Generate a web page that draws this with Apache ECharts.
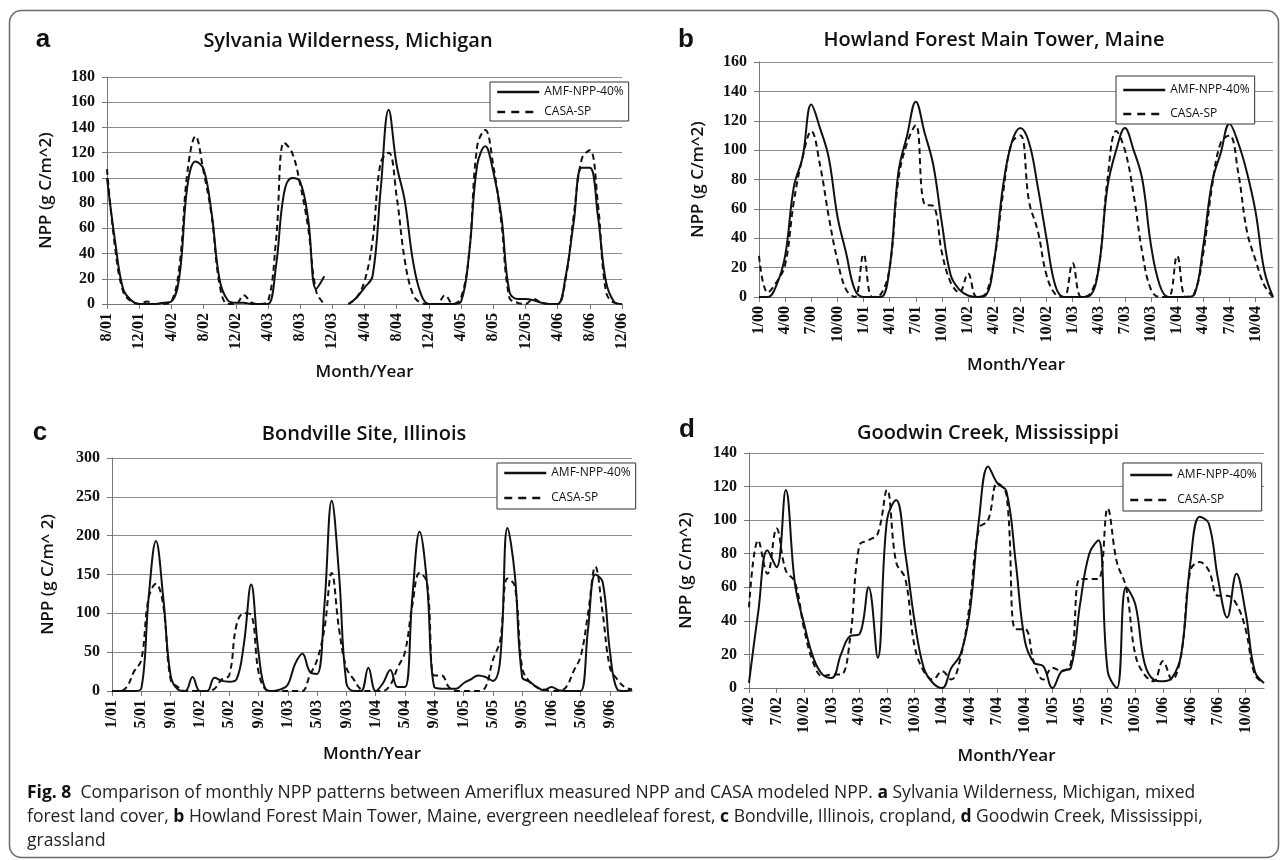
<!DOCTYPE html>
<html><head><meta charset="utf-8">
<script src="https://cdn.jsdelivr.net/npm/echarts/dist/echarts.min.js"></script>
<style>html,body{margin:0;padding:0;background:#fff}#c{width:1287px;height:860px}</style>
</head><body><div id="c"></div>
<script>
function months(m, y, n){ var out=[]; for(var i=0;i<n;i++){ out.push(m+'/'+String(y).padStart(2,'0')); m++; if(m>12){m=1;y++;} } return out; }

// Category (month/year) axes
var catA = months(8,1,65);   // 8/01 .. 12/06
var catB = months(1,0,60);   // 1/00 .. 12/04
var catC = months(1,1,72);   // 1/01 .. 12/06
var catD = months(4,2,57);   // 4/02 .. 12/06

var seriesNames = ['AMF-NPP-40%','CASA-SP'];

// a: Sylvania Wilderness, Michigan
var amfA = [100,50,12,3,0,0,0,1,2,22,94,113,107,72,19,3,1,1,0,0,0,30,88,100,97,67,12,22,null,null,0,5,13,22,90,154,110,82,35,8,0,0,0,0,2,40,110,125,105,70,10,4,4,3,1,0,0,22,65,108,108,70,18,2,0];
var casaA = [107,45,10,2,0,2,0,0,2,30,105,133,105,70,15,0,0,7,1,0,2,50,128,120,95,60,10,0,null,null,0,5,18,50,112,120,85,35,8,1,0,0,7,0,5,40,125,138,110,65,5,1,0,4,1,0,0,20,70,115,122,80,10,1,0];

// b: Howland Forest Main Tower, Maine
var amfB = [0,0,8,28,75,95,131,115,95,55,30,5,0,0,0,20,85,110,133,112,90,50,15,5,1,0,1,25,75,105,115,105,75,40,8,0,0,0,1,20,75,100,115,100,80,35,8,0,0,0,2,35,78,98,118,105,85,58,18,0];
var casaB = [28,3,10,22,65,95,113,90,55,25,5,0,29,0,2,20,80,105,117,63,62,30,10,3,16,0,2,25,70,105,110,65,45,15,2,0,23,0,2,20,80,113,100,70,30,5,0,0,28,0,3,30,75,105,110,85,45,25,8,0];

// c: Bondville Site, Illinois
var amfC = [0,0,0,0,3,120,193,120,20,2,0,18,0,0,17,13,12,15,60,137,50,2,0,2,8,35,48,25,22,110,245,150,10,0,0,30,0,10,27,5,5,120,205,140,5,3,3,3,10,15,20,18,13,40,210,150,18,12,5,1,5,1,0,0,0,80,150,140,50,2,0,2];
var casaC = [0,0,5,25,40,120,138,110,15,5,0,0,0,0,3,15,20,85,100,98,25,2,0,0,0,0,0,20,40,80,152,80,30,15,2,0,0,0,8,30,50,110,152,140,20,20,5,0,0,0,0,5,40,65,145,135,30,12,5,2,0,0,5,25,45,100,160,100,30,15,5,2];

// d: Goodwin Creek, Mississippi
var amfD = [3,45,82,72,118,62,38,18,8,6,20,31,32,60,18,100,112,80,40,12,3,0,12,20,45,100,132,122,117,75,28,15,13,0,10,12,50,80,88,10,0,60,50,15,5,4,6,20,75,102,98,65,42,68,45,10,3];
var casaD = [48,88,68,95,70,63,35,15,7,8,8,30,85,88,92,118,75,65,25,10,5,10,5,18,50,95,100,122,115,35,35,15,5,12,10,15,65,65,65,107,75,60,20,8,4,16,5,20,70,75,70,55,55,50,35,8,3];

var panels = [
  {cat:catA, amf:amfA, casa:casaA, grid:{left:107,top:77,width:515,height:227}, max:180, interval:20, step:3, yName:'NPP (g C/m^2)', yGap:52, xGap:60,
   legend:{left:490,top:82,padding:[4,5,3,6],itemGap:8}},
  {cat:catB, amf:amfB, casa:casaB, grid:{left:759,top:62,width:514,height:235}, max:160, interval:20, step:2, yName:'NPP (g C/m^2)', yGap:52, xGap:60,
   legend:{left:1116,top:76,padding:[8,5,4,6],itemGap:12}},
  {cat:catC, amf:amfC, casa:casaC, grid:{left:112,top:458,width:520,height:233}, max:300, interval:50, step:3, yName:'NPP (g C/m^ 2)', yGap:55, xGap:55,
   legend:{left:497,top:463,padding:[4,5,5,6],itemGap:13}},
  {cat:catD, amf:amfD, casa:casaD, grid:{left:749,top:453,width:515,height:235}, max:140, interval:20, step:2, yName:'NPP (g C/m^2)', yGap:54, xGap:60,
   legend:{left:1123,top:463,padding:[6,5,5,6],itemGap:13}}
];

var titles = [
  {text:'a', x:43, y:40, title:'Sylvania Wilderness, Michigan', tx:348, ty:41},
  {text:'b', x:686, y:40, title:'Howland Forest Main Tower, Maine', tx:994, ty:40},
  {text:'c', x:40, y:433, title:'Bondville Site, Illinois', tx:364, ty:434},
  {text:'d', x:687, y:430, title:'Goodwin Creek, Mississippi', tx:988, ty:433}
];

var captionLines = [
  '{b|Fig. 8}  Comparison of monthly NPP patterns between Ameriflux measured NPP and CASA modeled NPP. {b|a} Sylvania Wilderness, Michigan, mixed',
  'forest land cover, {b|b} Howland Forest Main Tower, Maine, evergreen needleleaf forest, {b|c} Bondville, Illinois, cropland, {b|d} Goodwin Creek, Mississippi,',
  'grassland'
];

var grid=[], xAxis=[], yAxis=[], series=[], legend=[], graphic=[];
var gridColor = '#8a8a8a';
panels.forEach(function(p, i){
  grid.push(p.grid);
  xAxis.push({type:'category', gridIndex:i, data:p.cat, boundaryGap:false,
    axisLine:{lineStyle:{color:'#777',width:1}},
    axisTick:{show:true, interval:p.step, length:5, lineStyle:{color:'#777'}},
    axisLabel:{interval:p.step, rotate:90, margin:9, color:'#111', fontFamily:'Liberation Serif', fontWeight:'bold', fontSize:16},
    name:'Month/Year', nameLocation:'middle', nameGap:p.xGap,
    nameTextStyle:{fontFamily:'Open Sans', fontWeight:600, fontSize:17, color:'#111'},
    splitLine:{show:false}});
  yAxis.push({type:'value', gridIndex:i, min:0, max:p.max, interval:p.interval,
    axisLine:{show:true, lineStyle:{color:'#777'}},
    axisTick:{show:true, length:5, lineStyle:{color:'#777'}},
    axisLabel:{margin:12, color:'#111', fontFamily:'Liberation Serif', fontWeight:'bold', fontSize:16},
    splitLine:{show:true, lineStyle:{color:gridColor, width:1}},
    name:p.yName, nameLocation:'middle', nameGap:p.yGap, nameRotate:90,
    nameTextStyle:{fontFamily:'Open Sans', fontWeight:600, fontSize:17, color:'#111'}});
  series.push({type:'line', name:seriesNames[0], xAxisIndex:i, yAxisIndex:i, data:p.amf, smooth:0.4, symbol:'none',
    lineStyle:{color:'#111', width:2}, itemStyle:{color:'#111'}});
  series.push({type:'line', name:seriesNames[1], xAxisIndex:i, yAxisIndex:i, data:p.casa, smooth:0.4, symbol:'none',
    lineStyle:{color:'#111', width:2, type:[6,4]}, itemStyle:{color:'#111'}});
  legend.push({orient:'vertical', left:p.legend.left, top:p.legend.top, padding:p.legend.padding, itemGap:p.legend.itemGap,
    itemWidth:42, itemHeight:14, backgroundColor:'#fff', borderColor:'#333', borderWidth:1, selectedMode:false,
    itemStyle:{color:'rgba(0,0,0,0)', borderColor:'rgba(0,0,0,0)', borderWidth:0, opacity:0},
    textStyle:{fontFamily:'Open Sans', fontSize:12, color:'#111'},
    data:[{name:seriesNames[0], lineStyle:{width:2.5}}, {name:seriesNames[1], lineStyle:{width:2.5, type:[8,6]}}]});
});

graphic.push({type:'rect', z:-1, shape:{x:9.5,y:10.5,width:1269,height:847,r:12}, style:{fill:'none', stroke:'#6a6a6a', lineWidth:1.5}});
titles.forEach(function(t){
  graphic.push({type:'text', x:t.x, y:t.y, style:{text:t.text, font:'bold 26px "Liberation Sans"', fill:'#111', textAlign:'center', textVerticalAlign:'middle'}});
  graphic.push({type:'text', x:t.tx, y:t.ty, style:{text:t.title, font:'600 20px "Open Sans"', fill:'#111', textAlign:'center', textVerticalAlign:'middle'}});
});
captionLines.forEach(function(line, k){
  graphic.push({type:'text', x:27, y:793 + k*24, style:{text:line, fontFamily:'Open Sans', fontSize:17.5, fill:'#222', textAlign:'left', textVerticalAlign:'middle',
    rich:{b:{fontFamily:'Open Sans', fontSize:17.5, fontWeight:'bold', fill:'#111'}}}});
});

var chart = echarts.init(document.getElementById('c'), null, {renderer:'canvas'});
chart.setOption({animation:false, backgroundColor:'#fff', grid:grid, xAxis:xAxis, yAxis:yAxis, series:series, legend:legend, graphic:graphic});
</script></body></html>
